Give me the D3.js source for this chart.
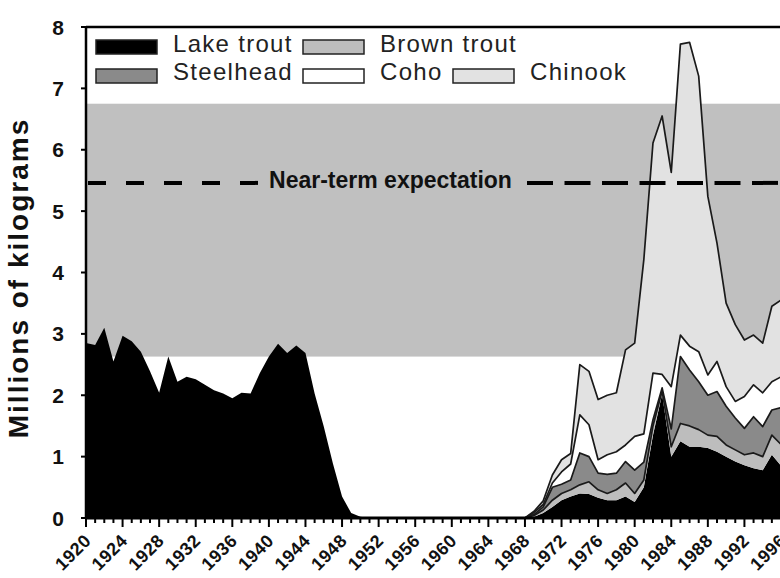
<!DOCTYPE html>
<html>
<head>
<meta charset="utf-8">
<script src="https://cdn.jsdelivr.net/npm/d3@7"></script>
<style>
  html, body { margin: 0; padding: 0; background: #fff; }
  svg { display: block; }
</style>
</head>
<body>
<script>
// Annual harvest of salmonines, millions of kilograms, 1920-1996
const years = d3.range(1920, 1997);

const lakeTrout = [
  2.85, 2.82, 3.10, 2.55, 2.97, 2.88, 2.71, 2.39, 2.04, 2.63,
  2.22, 2.30, 2.26, 2.17, 2.08, 2.03, 1.95, 2.04, 2.03, 2.36,
  2.63, 2.84, 2.69, 2.81, 2.69, 2.03, 1.49, 0.89, 0.35, 0.08,
  0.02, 0, 0, 0, 0, 0, 0, 0, 0, 0,
  0, 0, 0, 0, 0, 0, 0, 0, 0, 0.02,
  0.08, 0.18, 0.29, 0.35, 0.40, 0.39, 0.33, 0.29, 0.29, 0.35,
  0.26, 0.50, 1.35, 2.02, 1.00, 1.25, 1.16, 1.16, 1.14, 1.08,
  1.00, 0.92, 0.86, 0.81, 0.78, 1.03, 0.85
];
const brownTrout = [
  0, 0, 0, 0, 0, 0, 0, 0, 0, 0,
  0, 0, 0, 0, 0, 0, 0, 0, 0, 0,
  0, 0, 0, 0, 0, 0, 0, 0, 0, 0,
  0, 0, 0, 0, 0, 0, 0, 0, 0, 0,
  0, 0, 0, 0, 0, 0, 0, 0, 0, 0.02,
  0.05, 0.11, 0.11, 0.11, 0.14, 0.20, 0.13, 0.11, 0.17, 0.22,
  0.14, 0.12, 0.15, 0.05, 0.16, 0.29, 0.34, 0.28, 0.21, 0.25,
  0.19, 0.19, 0.17, 0.25, 0.22, 0.32, 0.35
];
const steelhead = [
  0, 0, 0, 0, 0, 0, 0, 0, 0, 0,
  0, 0, 0, 0, 0, 0, 0, 0, 0, 0,
  0, 0, 0, 0, 0, 0, 0, 0, 0, 0,
  0, 0, 0, 0, 0, 0, 0, 0, 0, 0,
  0, 0, 0, 0, 0, 0, 0, 0, 0, 0.02,
  0.05, 0.21, 0.15, 0.16, 0.52, 0.41, 0.27, 0.31, 0.27, 0.35,
  0.38, 0.29, 0.10, 0.05, 0.29, 1.09, 0.91, 0.78, 0.65, 0.73,
  0.63, 0.52, 0.43, 0.59, 0.49, 0.41, 0.60
];
const coho = [
  0, 0, 0, 0, 0, 0, 0, 0, 0, 0,
  0, 0, 0, 0, 0, 0, 0, 0, 0, 0,
  0, 0, 0, 0, 0, 0, 0, 0, 0, 0,
  0, 0, 0, 0, 0, 0, 0, 0, 0, 0,
  0, 0, 0, 0, 0, 0, 0, 0, 0, 0.03,
  0.04, 0.07, 0.20, 0.26, 0.62, 0.52, 0.22, 0.32, 0.35, 0.27,
  0.55, 0.46, 0.76, 0.22, 0.69, 0.35, 0.39, 0.49, 0.33, 0.49,
  0.32, 0.27, 0.52, 0.52, 0.55, 0.46, 0.50
];
const chinook = [
  0, 0, 0, 0, 0, 0, 0, 0, 0, 0,
  0, 0, 0, 0, 0, 0, 0, 0, 0, 0,
  0, 0, 0, 0, 0, 0, 0, 0, 0, 0,
  0, 0, 0, 0, 0, 0, 0, 0, 0, 0,
  0, 0, 0, 0, 0, 0, 0, 0, 0, 0.02,
  0.06, 0.13, 0.20, 0.17, 0.82, 0.87, 0.98, 0.97, 0.96, 1.55,
  1.52, 2.84, 3.75, 4.21, 3.49, 4.74, 4.95, 4.49, 2.91, 1.93,
  1.36, 1.25, 0.92, 0.81, 0.81, 1.23, 1.25
];

const yTicks = [0, 1, 2, 3, 4, 5, 6, 7, 8];
const xTickLabels = [1920, 1924, 1928, 1932, 1936, 1940, 1944, 1948, 1952, 1956,
                     1960, 1964, 1968, 1972, 1976, 1980, 1984, 1988, 1992, 1996];

// Target band and near-term expectation (millions of kg)
const targetBand = [2.63, 6.75];
const nearTerm = 5.46;
const nearTermLabel = "Near-term expectation";

const species = [
  { key: "lake",      name: "Lake trout",  values: lakeTrout,  fill: "#000000" },
  { key: "brown",     name: "Brown trout", values: brownTrout, fill: "#bdbdbd" },
  { key: "steelhead", name: "Steelhead",   values: steelhead,  fill: "#8a8a8a" },
  { key: "coho",      name: "Coho",        values: coho,       fill: "#ffffff" },
  { key: "chinook",   name: "Chinook",     values: chinook,    fill: "#e2e2e2" }
];

const rows = years.map((yr, i) => {
  const r = { year: yr };
  species.forEach(s => { r[s.key] = s.values[i]; });
  return r;
});

const W = 780, H = 578;
const svg = d3.select("body").append("svg")
  .attr("width", W).attr("height", H)
  .style("font-family", "'Liberation Sans', Arial, sans-serif");

const x = d3.scaleLinear().domain([1920, 1996]).range([86, 781]);
const y = d3.scaleLinear().domain([0, 8]).range([518, 27]);

// target band
svg.append("rect")
  .attr("x", x(1920)).attr("width", x(1996) - x(1920))
  .attr("y", y(targetBand[1])).attr("height", y(targetBand[0]) - y(targetBand[1]))
  .attr("fill", "#c0c0c0");

// stacked areas
const stack = d3.stack().keys(species.map(s => s.key));
const layers = stack(rows);

const area = d3.area()
  .x(d => x(d.data.year))
  .y0(d => y(d[0]))
  .y1(d => y(d[1]));

svg.append("g").selectAll("path")
  .data(layers)
  .join("path")
  .attr("d", area)
  .attr("fill", (d, i) => species[i].fill);

// outlines along the top of each stocked species layer
const topLine = d3.line()
  .defined(d => d.data.year >= 1968)
  .x(d => x(d.data.year))
  .y(d => y(d[1]));

svg.append("g").selectAll("path")
  .data(layers.slice(1))
  .join("path")
  .attr("d", topLine)
  .attr("fill", "none")
  .attr("stroke", "#1a1a1a")
  .attr("stroke-width", 1.7)
  .attr("stroke-linejoin", "round");

// near-term expectation dashed line with label
const yNT = y(nearTerm);
svg.append("line")
  .attr("x1", 88).attr("x2", 262).attr("y1", yNT).attr("y2", yNT)
  .attr("stroke", "#000").attr("stroke-width", 4)
  .attr("stroke-dasharray", "18,20");
svg.append("line")
  .attr("x1", 527).attr("x2", W).attr("y1", yNT).attr("y2", yNT)
  .attr("stroke", "#000").attr("stroke-width", 4)
  .attr("stroke-dasharray", "26,11.5");
svg.append("text")
  .attr("x", 390.5).attr("y", 188)
  .attr("text-anchor", "middle")
  .attr("font-size", 23).attr("font-weight", "bold")
  .attr("fill", "#111")
  .text(nearTermLabel);

// frame: top border and axes
svg.append("line")
  .attr("x1", x(1920)).attr("x2", W).attr("y1", y(8)).attr("y2", y(8))
  .attr("stroke", "#000").attr("stroke-width", 2.5);
svg.append("line")
  .attr("x1", x(1920)).attr("x2", x(1920)).attr("y1", y(8) - 1).attr("y2", y(0) + 1)
  .attr("stroke", "#000").attr("stroke-width", 2.5);
svg.append("line")
  .attr("x1", x(1920) - 1).attr("x2", W).attr("y1", y(0)).attr("y2", y(0))
  .attr("stroke", "#000").attr("stroke-width", 3);

// y ticks and labels
const yg = svg.append("g");
yg.selectAll("line").data(yTicks).join("line")
  .attr("x1", x(1920) - 5).attr("x2", x(1920))
  .attr("y1", d => y(d)).attr("y2", d => y(d))
  .attr("stroke", "#000").attr("stroke-width", 2);
yg.selectAll("text").data(yTicks).join("text")
  .attr("x", 64).attr("y", d => y(d))
  .attr("dy", "0.36em")
  .attr("text-anchor", "end")
  .attr("font-size", 21).attr("font-weight", "bold")
  .attr("fill", "#111")
  .text(d => d);

// x ticks: every year, longer every fourth year
const xg = svg.append("g");
xg.selectAll("line").data(years).join("line")
  .attr("x1", d => x(d)).attr("x2", d => x(d))
  .attr("y1", y(0)).attr("y2", d => y(0) + ((d - 1920) % 4 === 0 ? 9 : 5))
  .attr("stroke", "#000").attr("stroke-width", 2);
xg.selectAll("text").data(xTickLabels).join("text")
  .attr("transform", d => `translate(${x(d) + 6},${542}) rotate(-45)`)
  .attr("text-anchor", "end")
  .attr("font-size", 18).attr("font-weight", "bold")
  .attr("letter-spacing", "0.4px")
  .attr("fill", "#111")
  .text(d => d);

// y axis title
svg.append("text")
  .attr("transform", `translate(28,278) rotate(-90)`)
  .attr("text-anchor", "middle")
  .attr("font-size", 28).attr("font-weight", "bold")
  .attr("letter-spacing", "2px")
  .attr("fill", "#111")
  .text("Millions of kilograms");

// legend
const legendPos = {
  lake:      { sx: 96,  sy: 40, tx: 173, ty: 52 },
  brown:     { sx: 303, sy: 40, tx: 380, ty: 52 },
  steelhead: { sx: 96,  sy: 69, tx: 173, ty: 80 },
  coho:      { sx: 303, sy: 69, tx: 380, ty: 80 },
  chinook:   { sx: 453, sy: 69, tx: 530, ty: 80 }
};
const lg = svg.append("g");
species.forEach(s => {
  const p = legendPos[s.key];
  lg.append("rect")
    .attr("x", p.sx).attr("y", p.sy).attr("width", 61).attr("height", 14)
    .attr("fill", s.fill).attr("stroke", "#222").attr("stroke-width", 1.5);
  lg.append("text")
    .attr("x", p.tx).attr("y", p.ty)
    .attr("font-size", 24).attr("letter-spacing", "1.3px")
    .attr("fill", "#222")
    .text(s.name);
});
</script>
</body>
</html>
